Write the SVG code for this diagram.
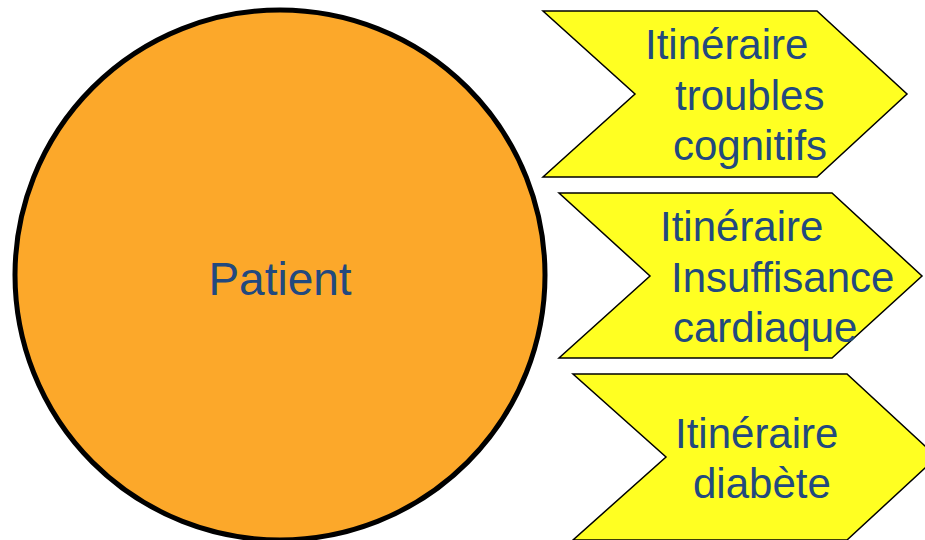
<svg xmlns="http://www.w3.org/2000/svg" width="925" height="540" viewBox="0 0 925 540">
<style>
.chev{fill:#FFFF22;stroke:#000;stroke-width:1.5;stroke-linejoin:miter}
.lbl{font-family:"Liberation Sans",Arial,sans-serif;font-size:42px;fill:#22497F}
</style>
<rect width="925" height="540" fill="#fff"/>
<g id="patient">
<circle cx="280" cy="275" r="265" fill="#FCA82A" stroke="#000" stroke-width="5"/>
<text class="lbl" x="280" y="295" text-anchor="middle" style="font-size:46px">Patient</text>
</g>
<g id="connectors"></g>
<g id="itin-cognitifs">
<polygon class="chev" points="543,11 817,11 907,94 817,177 543,177 635,94"/>
<text class="lbl" x="645" y="59">Itinéraire</text>
<text class="lbl" x="675" y="110">troubles</text>
<text class="lbl" x="673" y="160">cognitifs</text>
</g>
<g id="itin-cardiaque">
<polygon class="chev" points="559,193 832,193 922,276 832,358 559,358 650,276"/>
<text class="lbl" x="660" y="241">Itinéraire</text>
<text class="lbl" x="671" y="292">Insuffisance</text>
<text class="lbl" x="673" y="342">cardiaque</text>
</g>
<g id="itin-diabete">
<polygon class="chev" points="573,374 847,374 937,457 847,540 573,540 666,457"/>
<text class="lbl" x="675" y="448">Itinéraire</text>
<text class="lbl" x="693" y="498">diabète</text>
</g>
</svg>
